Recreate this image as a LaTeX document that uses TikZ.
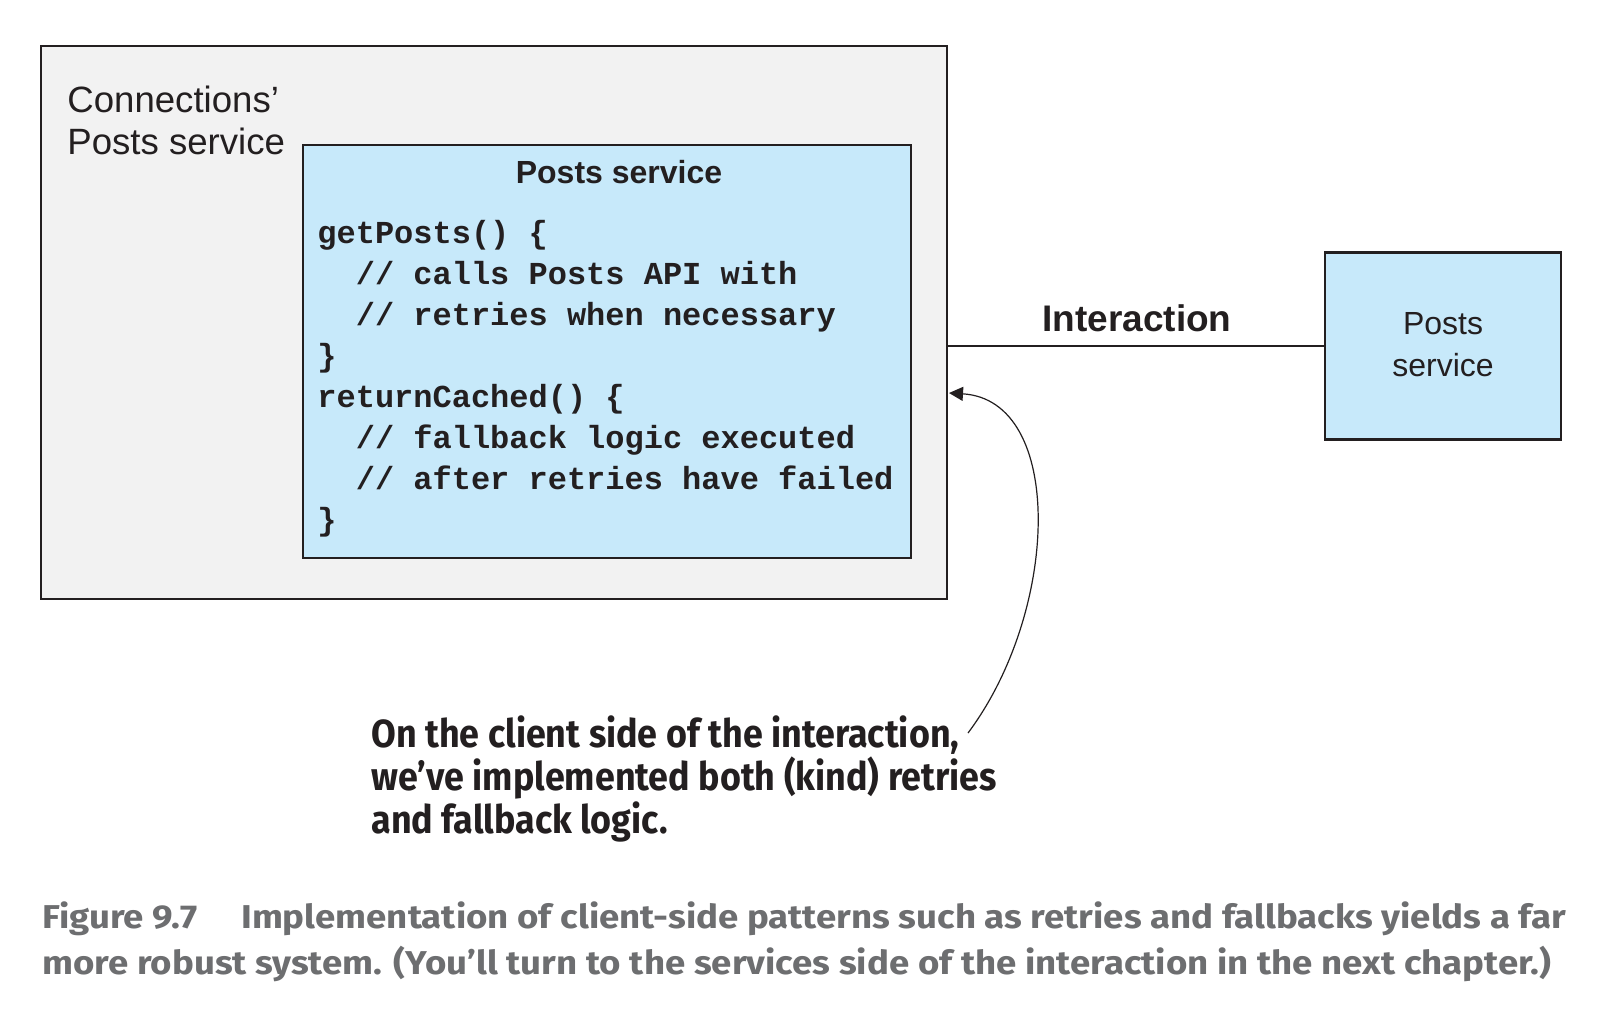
\documentclass[tikz,border=0pt]{standalone}
\usepackage{fontspec}
\setmainfont{Liberation Sans}
\setmonofont{Liberation Mono}
\newfontfamily\annfont[FakeStretch=0.915]{Fira Sans}
\newfontfamily\capfont[FakeStretch=1.11]{Fira Sans}
\usetikzlibrary{arrows.meta}
\definecolor{ink}{RGB}{35,31,32}
\definecolor{outerfill}{RGB}{242,242,242}
\definecolor{svcblue}{RGB}{199,233,250}
\definecolor{capgray}{RGB}{109,110,112}
\tikzset{
  box/.style={draw=ink, line width=1.4pt, rectangle, inner sep=0pt},
  txt/.style={inner sep=0pt, text=ink},
  code/.style={txt, anchor=base west, font=\ttfamily\bfseries\fontsize{16}{18}\selectfont},
  label/.style={txt, font=\fontsize{18.3}{21}\selectfont},
  ann/.style={txt, anchor=base west, font=\annfont\bfseries\fontsize{19.6}{22}\selectfont},
  capline/.style={inner sep=0pt, anchor=base west, text=capgray, font=\capfont\bfseries\fontsize{16.5}{20}\selectfont},
  link/.style={draw=ink, line width=1.4pt},
  callout/.style={draw=ink, line width=0.6pt, -{Triangle[length=7pt,width=7pt]}}
}
\begin{document}
\begin{tikzpicture}[x=0.5pt,y=-0.5pt]
\useasboundingbox (0,0) rectangle (1620,1012);
\fill[white] (0,0) rectangle (1620,1012);
% boxes
\node[box, fill=outerfill, minimum width=453pt, minimum height=276.5pt] (outer) at (494,322.5) {};
\node[box, fill=svcblue, line width=1.1pt, minimum width=304pt, minimum height=206.5pt] (inner) at (607,351.5) {};
\node[box, fill=svcblue, minimum width=118pt, minimum height=93.75pt] (right) at (1443,346) {};
% outer label
\node[label, anchor=base west] (conn1) at (67,112) {Connections’};
\node[label, anchor=base west] (conn2) at (67,154) {Posts service};
% inner heading
\node[txt, anchor=base, font=\bfseries\fontsize{16}{19}\selectfont] (head) at (619,183) {Posts service};
% code
\node[code] (c1) at (317,243) {getPosts() \{};
\node[code] (c2) at (355.4,284) {// calls Posts API with};
\node[code] (c3) at (355.4,325) {// retries when necessary};
\node[code] (c4) at (317,366) {\}};
\node[code] (c5) at (317,407) {returnCached() \{};
\node[code] (c6) at (355.4,448) {// fallback logic executed};
\node[code] (c7) at (355.4,489) {// after retries have failed};
\node[code] (c8) at (317,530) {\}};
% right box text
\node[txt, anchor=base, font=\fontsize{16}{19}\selectfont] (r1) at (1443,334) {Posts};
\node[txt, anchor=base, font=\fontsize{16}{19}\selectfont] (r2) at (1443,376) {service};
% interaction
\draw[link] (right.west) -- (right.west -| outer.east);
\node[txt, anchor=base, font=\bfseries\fontsize{18.5}{21}\selectfont] (inter) at (1137,331) {Interaction};
% annotation
\node[ann] (a1) at (371,747) {On the client side of the interaction,};
\node[ann] (a2) at (371,790) {we’ve implemented both (kind) retries};
\node[ann] (a3) at (371,833) {and fallback logic.};
\coordinate (astart) at (968,733);
\coordinate (tip) at (949,393);
\draw[callout] (astart) .. controls (1060,610) and (1065,400) .. (tip);
% caption
\node[capline] (cap1) at (42,928) {Figure 9.7\hspace{22pt}Implementation of client-side patterns such as retries and fallbacks yields a far};
\node[capline] (cap2) at (42,974) {more robust system. (You’ll turn to the services side of the interaction in the next chapter.)};
\end{tikzpicture}
\end{document}
